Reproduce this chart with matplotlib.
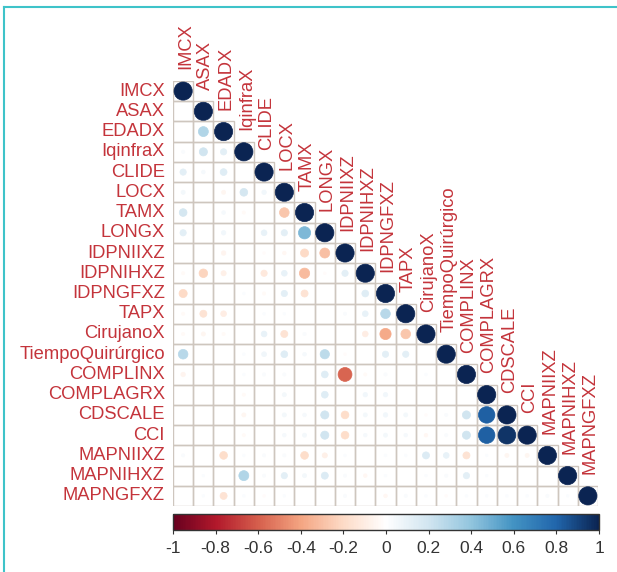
import numpy as np
import matplotlib
matplotlib.use("Agg")
import matplotlib.pyplot as plt
from matplotlib.patches import Circle, Rectangle
from matplotlib.colors import LinearSegmentedColormap, Normalize
from matplotlib.colorbar import ColorbarBase
from matplotlib.lines import Line2D

plt.rcParams['font.family'] = ['Liberation Sans', 'DejaVu Sans']

# variable names (rows / columns)
names = ['IMCX', 'ASAX', 'EDADX', 'IqinfraX', 'CLIDE', 'LOCX', 'TAMX', 'LONGX',
         'IDPNIIXZ', 'IDPNIHXZ', 'IDPNGFXZ', 'TAPX', 'CirujanoX',
         'TiempoQuirúrgico', 'COMPLINX', 'COMPLAGRX', 'CDSCALE', 'CCI',
         'MAPNIIXZ', 'MAPNIHXZ', 'MAPNGFXZ']

# lower triangle correlations (row i, columns 0..i-1), diagonal is 1
lower = [
    [],
    [0],
    [0, 0.30],
    [0.03, 0.20, 0.12],
    [0.12, 0.04, 0.14, 0],
    [0.05, 0, -0.05, 0.18, 0.06],
    [0.18, 0, 0.04, -0.03, 0, -0.28],
    [0.12, 0, 0.06, 0, 0.10, 0.12, 0.45],
    [0, 0, -0.06, 0, -0.02, -0.04, -0.20, -0.30],
    [-0.03, -0.22, -0.08, 0, -0.12, 0.10, -0.32, -0.02, 0.12],
    [-0.20, 0, 0, 0.02, -0.03, 0.12, -0.15, 0, 0, 0.14],
    [-0.03, -0.15, -0.10, 0, 0.02, 0.02, 0, 0, 0.03, 0.10, 0.28],
    [-0.03, -0.05, -0.03, 0, 0.10, -0.15, 0.03, 0, 0, -0.10, -0.38, -0.28],
    [0.28, 0, 0, 0.02, 0.07, 0.14, 0.04, 0.26, -0.02, 0, 0.12, 0.12, 0],
    [-0.06, 0, 0, 0.02, 0.03, 0.03, 0, 0.14, -0.58, -0.03, 0.03, 0, 0.02, 0],
    [0, 0, 0, -0.03, 0, 0.05, 0, 0.14, 0, 0.06, 0.06, 0, 0, 0, 0],
    [0, 0, 0, -0.05, 0, 0.05, 0.04, 0.20, -0.18, 0.05, 0.06, 0.05, -0.02, 0.03,
     0.20, 0.82],
    [0, 0, 0, -0.03, 0, 0.04, 0.05, 0.20, -0.18, 0.04, 0.05, 0.04, -0.04, 0.03,
     0.20, 0.82, 0.95],
    [0.03, 0, -0.18, 0.02, 0.03, 0.03, -0.18, -0.08, 0.02, 0, 0.02, 0.02, 0.15,
     0.10, -0.15, 0.02, -0.05, -0.05],
    [0, 0.02, 0, 0.30, 0.03, 0.12, 0.05, 0.15, 0.03, -0.04, 0.02, 0, 0.02, 0.03,
     0.12, 0.02, 0, 0, 0],
    [0, 0.02, -0.15, 0.02, -0.02, 0.02, 0, 0, 0.03, 0, -0.04, 0.03, 0.02, -0.02,
     0.02, 0.02, 0.02, 0.02, 0.03, 0.02],
]

cbar_ticks = [-1, -0.8, -0.6, -0.4, -0.2, 0, 0.2, 0.4, 0.6, 0.8, 1]

n = len(names)
corr = np.eye(n)
for i, row in enumerate(lower):
    for j, v in enumerate(row):
        corr[i, j] = v
        corr[j, i] = v

# corrplot default palette
cmap = LinearSegmentedColormap.from_list('corr', [
    '#67001F', '#B2182B', '#D6604D', '#F4A582', '#FDDBC7', '#FFFFFF',
    '#D1E5F0', '#92C5DE', '#4393C3', '#2166AC', '#0B2452'])
norm = Normalize(-1, 1)

W, H = 617, 572
fig = plt.figure(figsize=(W / 100, H / 100), dpi=100)
ax = fig.add_axes([173 / W, (H - 506) / H, 425 / W, 425 / H])
ax.set_xlim(-0.5, n - 0.5)
ax.set_ylim(n - 0.5, -0.5)
ax.axis('off')

label_col = '#C4343B'
grid_col = '#CEC6BE'

for i in range(n):
    for j in range(i + 1):
        ax.add_patch(Rectangle((j - 0.5, i - 0.5), 1, 1, fill=False,
                               edgecolor=grid_col, lw=1.0))
        v = corr[i, j]
        if v != 0:
            c = cmap(norm(v))
            ax.add_patch(Circle((j, i), 0.45 * np.sqrt(abs(v)),
                                facecolor=c, edgecolor=c, lw=0.5))

for k, name in enumerate(names):
    ax.text(-0.9, k, name, ha='right', va='center', fontsize=13.2,
            color=label_col, clip_on=False)
    ax.text(k + 0.12, k - 1.08, name, ha='center', va='bottom', rotation=90,
            fontsize=13.2, color=label_col, clip_on=False)

# colour legend
cax = fig.add_axes([173 / W, (H - 530) / H, 426 / W, 16 / H])
cb = ColorbarBase(cax, cmap=cmap, norm=norm, orientation='horizontal',
                  ticks=cbar_ticks)
cb.set_ticklabels(['%g' % t for t in cbar_ticks])
cax.tick_params(labelsize=12.5, length=3, colors='#333333', pad=5)
cb.outline.set_edgecolor('#333333')
cb.outline.set_linewidth(1)

# frame lines of the original picture
fig.add_artist(Line2D([4 / W, 4 / W], [0, 1 - 7 / H], color='#3EC3C9', lw=1.5))
fig.add_artist(Line2D([4 / W, 1], [1 - 7 / H, 1 - 7 / H], color='#3EC3C9', lw=1.5))

fig.savefig('out.png', dpi=100)
